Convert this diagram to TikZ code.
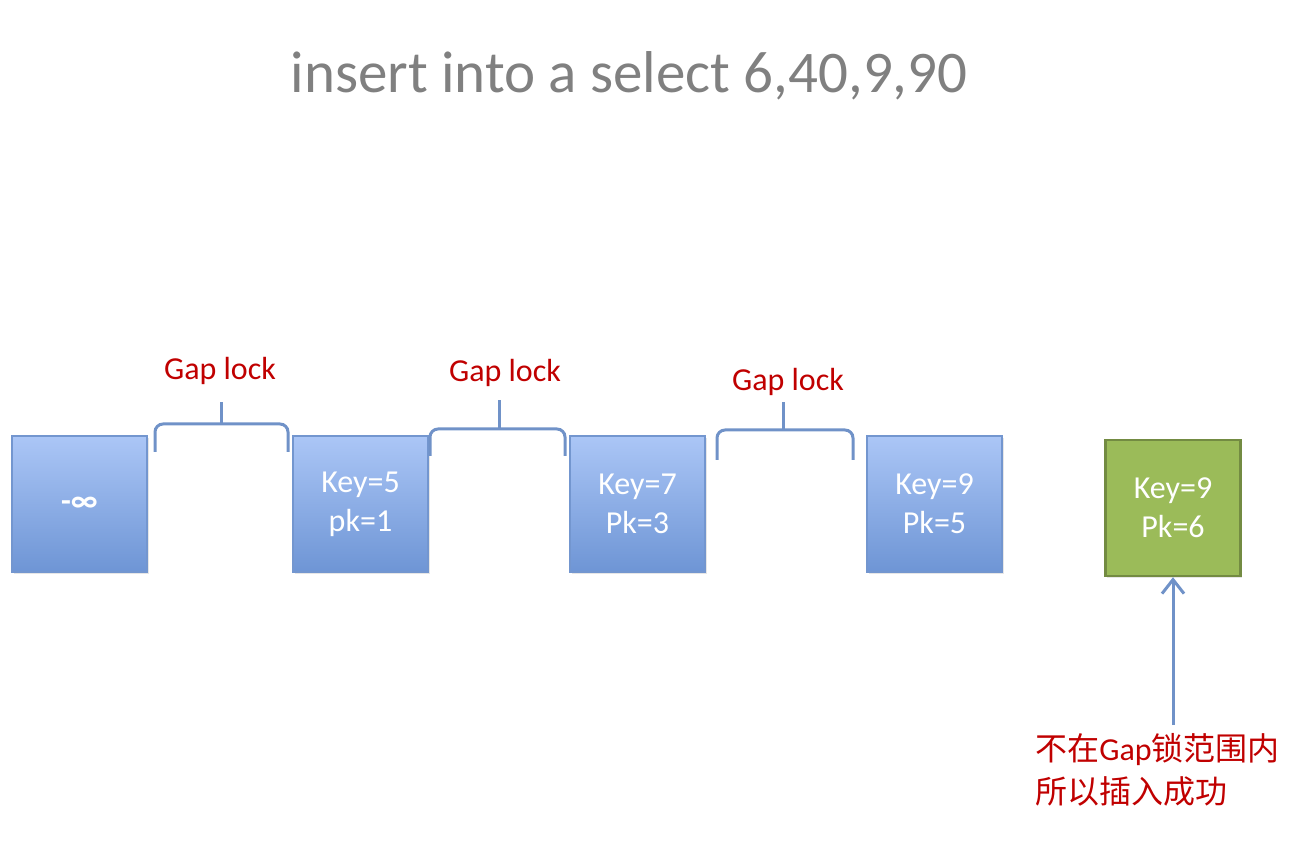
\documentclass[tikz,border=0pt]{standalone}
\usepackage{fontspec}
\setmainfont{Carlito}
\newfontfamily\cjk{Noto Sans CJK SC}
\usetikzlibrary{arrows.meta,shadows}
\definecolor{boxtop}{HTML}{ABC6F6}
\definecolor{boxbot}{HTML}{6E95D5}
\definecolor{boxline}{HTML}{7396CF}
\definecolor{newfill}{HTML}{9BBB59}
\definecolor{newline}{HTML}{738B42}
\definecolor{lockred}{HTML}{C00000}
\definecolor{bracecol}{HTML}{7092C8}
\tikzset{
  keybox/.style={draw=boxline, line width=0.8pt, top color=boxtop, bottom color=boxbot,
    minimum width=67.5pt, minimum height=68pt, inner sep=0pt, align=center,
    text=white, font=\fontsize{16}{19.5}\selectfont,
    drop shadow={opacity=0.2, shadow xshift=0.8pt, shadow yshift=-1pt}},
  newbox/.style={keybox, draw=newline, line width=1.2pt, fill=newfill, top color=newfill, bottom color=newfill},
  locklabel/.style={text=lockred, font=\fontsize{16}{19}\selectfont},
  brace/.style={draw=bracecol, line width=1.5pt, rounded corners=4pt},
}
\begin{document}
\begin{tikzpicture}[x=0.5pt,y=-0.5pt]
  \useasboundingbox (0,0) rectangle (1300,860);
  % title
  \node[text=gray, font=\fontsize{29.5}{34}\selectfont] (title) at (629,76) {insert into a select 6,40,9,90};
  % index records
  \node[keybox] (ninf) at (79.5,504) {\bfseries -∞};
  \node[keybox] (k5) at (360.5,504) {Key=5\\pk=1};
  \node[keybox] (k7) at (637.5,504) {Key=7\\Pk=3};
  \node[keybox] (k9) at (934.5,504) {Key=9\\Pk=5};
  \node[newbox] (new) at (1173,508) {Key=9\\Pk=6};
  % gap locks
  \foreach \a/\b/\m/\yb/\yl/\yt/\n in {155/288/221/452/424/402/1, 430/565/499/456/429/400/2, 717/853/783/460/430/402/3}
  {
    \draw[brace] (\a,\yb) |- (\m,\yl) -| (\b,\yb);
    \draw[brace] (\m,\yl) -- (\m,\yt);
  }
  \node[locklabel] (gap1) at (220,371) {Gap lock};
  \node[locklabel] (gap2) at (505,373) {Gap lock};
  \node[locklabel] (gap3) at (788,382) {Gap lock};
  % insert note
  \node[text=lockred, font=\fontsize{16}{21.5}\selectfont, align=left, anchor=north west, inner sep=0pt] (note) at (1035,733)
    {{\cjk 不在}Gap{\cjk 锁范围内}\\{\cjk 所以插入成功}};
  \coordinate (tail) at (1173,725);
  \draw[draw=bracecol, line width=1.5pt, -{Straight Barb[length=7pt,width=11pt]}] (tail) -- (new.south);
\end{tikzpicture}
\end{document}
